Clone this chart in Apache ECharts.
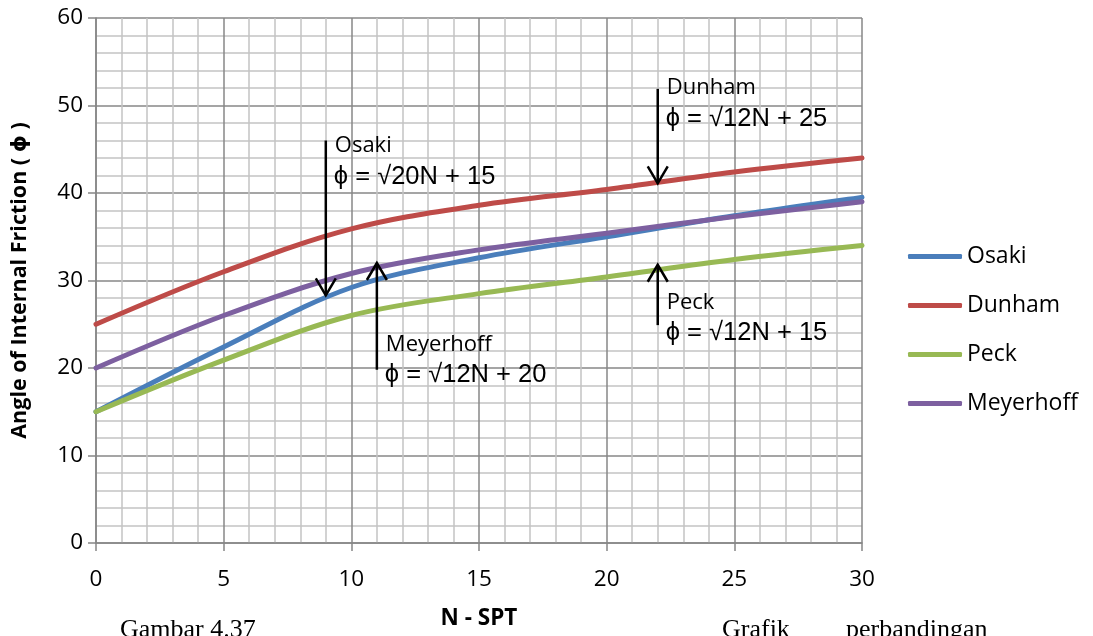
<!DOCTYPE html>
<html>
<head>
<meta charset="utf-8">
<script src="https://cdn.jsdelivr.net/npm/echarts@6/dist/echarts.min.js"></script>
<style>
  html, body { margin: 0; padding: 0; background: #fff; }
  #chart { width: 1093px; height: 636px; }
</style>
</head>
<body>
<div id="chart"></div>
<script>
// N-SPT values and friction angle (degrees) for each correlation
const nSpt = [0, 5, 10, 15, 20, 25, 30];
const osaki = [15, 22.4, 29.2, 32.6, 35.0, 37.4, 39.5];
const dunham = [25, 31.0, 35.9, 38.6, 40.4, 42.4, 44.0];
const peck = [15, 20.9, 26.0, 28.5, 30.4, 32.4, 34.0];
const meyerhoff = [20, 26.0, 30.8, 33.5, 35.4, 37.3, 39.0];

const seriesNames = ['Osaki', 'Dunham', 'Peck', 'Meyerhoff'];
const seriesValues = [osaki, dunham, peck, meyerhoff];
const seriesColors = ['#4a7ebb', '#be4b48', '#98b954', '#7d60a0'];

// Callouts: arrow at N, from tail value to head value, text block starting at textY
const noteNames = ['Osaki', 'Meyerhoff', 'Dunham', 'Peck'];
const noteFormulas = ['ϕ = √20N + 15', 'ϕ = √12N + 20', 'ϕ = √12N + 25', 'ϕ = √12N + 15'];
const noteN = [9, 11, 22, 22];
const noteTail = [46.0, 19.8, 51.9, 24.9];
const noteHead = [28.3, 32.0, 41.1, 31.8];
const noteTextY = [45.4, 22.7, 52.0, 27.5];

const font = '"Open Sans", "DejaVu Sans", sans-serif';
const chart = echarts.init(document.getElementById('chart'), null, { renderer: 'canvas' });

const lineSeries = seriesNames.map((name, k) => ({
  name,
  type: 'line',
  data: nSpt.map((n, i) => [n, seriesValues[k][i]]),
  smooth: 0.35,
  symbol: 'none',
  z: 3,
  lineStyle: { color: seriesColors[k], width: 5, cap: 'round', join: 'round' },
  itemStyle: { color: seriesColors[k] }
}));

const noteSeries = {
  type: 'custom',
  coordinateSystem: 'cartesian2d',
  silent: true,
  z: 5,
  encode: { x: 0, y: 1 },
  data: noteN.map((n, i) => [n, noteTail[i], noteHead[i], noteTextY[i]]),
  renderItem(params, api) {
    const i = params.dataIndex;
    const n = api.value(0);
    const tail = api.coord([n, api.value(1)]);
    const head = api.coord([n, api.value(2)]);
    const txt = api.coord([n, api.value(3)]);
    const dir = head[1] > tail[1] ? 1 : -1;
    const stroke = { stroke: '#000', lineWidth: 2.5, fill: null };
    return {
      type: 'group',
      children: [
        { type: 'line', shape: { x1: tail[0], y1: tail[1], x2: head[0], y2: head[1] }, style: stroke },
        { type: 'polyline', shape: { points: [
            [head[0] - 10, head[1] - dir * 17], [head[0], head[1]], [head[0] + 10, head[1] - dir * 17]
          ] }, style: stroke },
        { type: 'text', x: tail[0] + 9, y: txt[1], style: {
            text: noteNames[i], fill: '#000', font: '22px ' + font,
            textAlign: 'left', textVerticalAlign: 'middle' } },
        { type: 'text', x: tail[0] + 8, y: txt[1] + 31, style: {
            text: noteFormulas[i], fill: '#000', font: '25.5px "Liberation Sans", Arial, sans-serif',
            textAlign: 'left', textVerticalAlign: 'middle' } }
      ]
    };
  }
};

chart.setOption({
  animation: false,
  backgroundColor: '#fff',
  textStyle: { fontFamily: font },
  grid: { left: 96, right: 231, top: 18, bottom: 93, containLabel: false },
  xAxis: {
    type: 'value', min: 0, max: 30, interval: 5,
    name: 'N - SPT', nameLocation: 'middle', nameGap: 64,
    nameTextStyle: { fontSize: 22.5, fontWeight: 'bold', color: '#000', fontFamily: font },
    axisLine: { show: true, lineStyle: { color: '#868686', width: 1.5 } },
    axisTick: { show: true, length: 8, lineStyle: { color: '#868686', width: 1.5 } },
    axisLabel: { fontSize: 22.5, color: '#000', margin: 25, fontFamily: font },
    splitLine: { show: true, lineStyle: { color: '#878787', width: 1.5 } },
    minorTick: { show: false, splitNumber: 5 },
    minorSplitLine: { show: true, lineStyle: { color: '#c4c4c4', width: 1.5 } }
  },
  yAxis: {
    type: 'value', min: 0, max: 60, interval: 10,
    name: 'Angle of Internal Friction ( ϕ )', nameLocation: 'middle', nameGap: 65,
    nameTextStyle: { fontSize: 21.5, fontWeight: 'bold', color: '#000', fontFamily: font },
    axisLine: { show: true, lineStyle: { color: '#868686', width: 1.5 } },
    axisTick: { show: true, length: 8, lineStyle: { color: '#868686', width: 1.5 } },
    axisLabel: { fontSize: 22.5, color: '#000', margin: 13, fontFamily: font },
    splitLine: { show: true, lineStyle: { color: '#878787', width: 1.5 } },
    minorTick: { show: false, splitNumber: 5 },
    minorSplitLine: { show: true, lineStyle: { color: '#c4c4c4', width: 1.5 } }
  },
  legend: {
    data: seriesNames,
    orient: 'vertical',
    left: 903, top: 240,
    icon: 'roundRect',
    itemWidth: 54, itemHeight: 5, itemGap: 26,
    textStyle: { fontSize: 23, color: '#000', fontFamily: font, lineHeight: 23 }
  },
  graphic: [
    { type: 'text', left: 120, top: 617, style: {
        text: 'Gambar 4.37', fill: '#000', font: '26px "Liberation Serif", "Times New Roman", serif' } },
    { type: 'text', left: 722, top: 617, style: {
        text: 'Grafik', fill: '#000', font: '26px "Liberation Serif", "Times New Roman", serif' } },
    { type: 'text', left: 846, top: 617, style: {
        text: 'perbandingan', fill: '#000', font: '26px "Liberation Serif", "Times New Roman", serif' } }
  ],
  series: [...lineSeries, noteSeries]
});
</script>
</body>
</html>
